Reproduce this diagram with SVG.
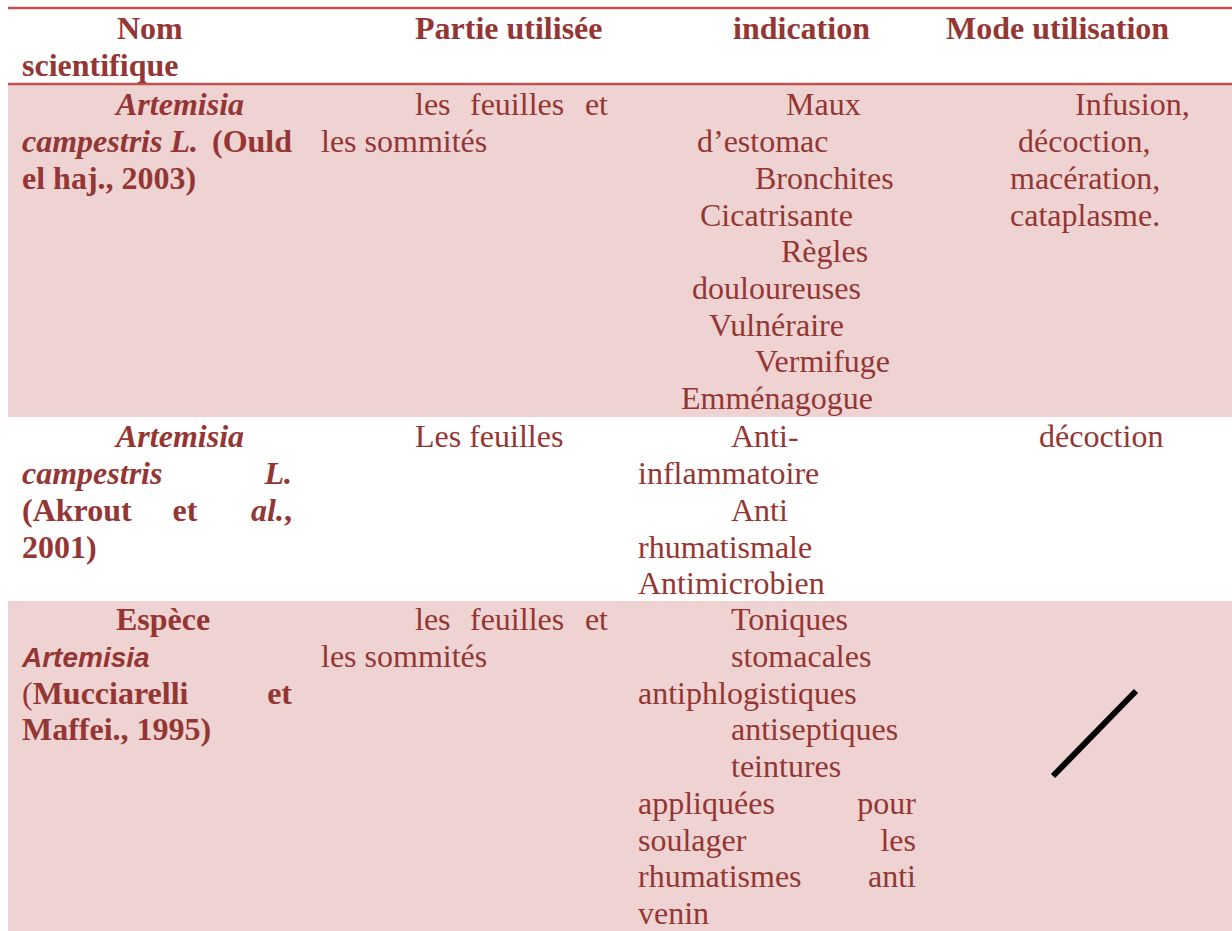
<svg xmlns="http://www.w3.org/2000/svg" width="1232" height="931" viewBox="0 0 1232 931">
<style>
text{font-family:"Liberation Serif","Times New Roman",serif;font-size:32px;fill:#943634}
.b{font-weight:bold}
.i{font-style:italic}
.s{font-family:"Liberation Sans",Arial,sans-serif;font-style:italic;font-weight:bold;font-size:28px}
.e{text-anchor:end}
.m{text-anchor:middle}
.band{fill:#EFD3D2}
.rule{stroke:#C0504D;stroke-width:2.7}
</style>
<rect width="1232" height="931" fill="#ffffff"/>
<g id="bands">
<rect class="band" x="8" y="85" width="1224" height="332"/>
<rect class="band" x="8" y="601" width="1224" height="330"/>
<line class="rule" x1="8" y1="8" x2="1232" y2="8"/>
<line class="rule" x1="8" y1="84" x2="1232" y2="84"/>
</g>
<g id="header">
<text class="b" x="117" y="39">Nom</text>
<text class="b" x="22" y="76">scientifique</text>
<text class="b" x="415" y="39">Partie utilisée</text>
<text class="b" x="733" y="39">indication</text>
<text class="b" x="946" y="39">Mode utilisation</text>
</g>
<g id="row1">
<text class="b i" x="116" y="115">Artemisia</text>
<text class="b" x="22" y="152"><tspan class="i">campestris L.</tspan></text>
<text class="b e" x="292" y="152">(Ould</text>
<text class="b" x="22" y="189">el haj., 2003)</text>
<text x="415" y="115">les</text>
<text x="470" y="115">feuilles</text>
<text class="e" x="608" y="115">et</text>
<text x="321" y="152">les sommités</text>
<text x="786" y="115">Maux</text>
<text x="697" y="152">d’estomac</text>
<text x="755" y="189">Bronchites</text>
<text x="700" y="226">Cicatrisante</text>
<text x="781" y="262">Règles</text>
<text x="692" y="299">douloureuses</text>
<text x="709" y="336">Vulnéraire</text>
<text x="755" y="372">Vermifuge</text>
<text x="681" y="409">Emménagogue</text>
<text x="1075" y="115">Infusion,</text>
<text x="1018" y="152">décoction,</text>
<text x="1010" y="189">macération,</text>
<text x="1010" y="226">cataplasme.</text>
</g>
<g id="row2">
<text class="b i" x="116" y="447">Artemisia</text>
<text class="b i" x="22" y="484">campestris</text>
<text class="b i e" x="292" y="484">L.</text>
<text class="b" x="22" y="521">(Akrout</text>
<text class="b m" x="185" y="521">et</text>
<text class="b e" x="292" y="521"><tspan class="i">al.</tspan>,</text>
<text class="b" x="22" y="558">2001)</text>
<text x="415" y="447">Les feuilles</text>
<text x="731" y="447">Anti-</text>
<text x="638" y="484">inflammatoire</text>
<text x="731" y="521">Anti</text>
<text x="638" y="558">rhumatismale</text>
<text x="638" y="594">Antimicrobien</text>
<text x="1039" y="447">décoction</text>
</g>
<g id="row3">
<text class="b" x="116" y="630">Espèce</text>
<text class="s" x="22" y="667">Artemisia</text>
<text x="22" y="704">(<tspan class="b">Mucciarelli</tspan></text>
<text class="b e" x="292" y="704">et</text>
<text class="b" x="22" y="740">Maffei., 1995)</text>
<text x="415" y="630">les</text>
<text x="470" y="630">feuilles</text>
<text class="e" x="608" y="630">et</text>
<text x="321" y="667">les sommités</text>
<text x="731" y="630">Toniques</text>
<text x="731" y="667">stomacales</text>
<text x="638" y="704">antiphlogistiques</text>
<text x="731" y="740">antiseptiques</text>
<text x="731" y="777">teintures</text>
<text x="638" y="814">appliquées</text>
<text class="e" x="916" y="814">pour</text>
<text x="638" y="851">soulager</text>
<text class="e" x="916" y="851">les</text>
<text x="638" y="887">rhumatismes</text>
<text class="e" x="916" y="887">anti</text>
<text x="638" y="924">venin</text>
<line x1="1053" y1="776" x2="1136" y2="691" stroke="#000000" stroke-width="6"/>
</g>
</svg>
